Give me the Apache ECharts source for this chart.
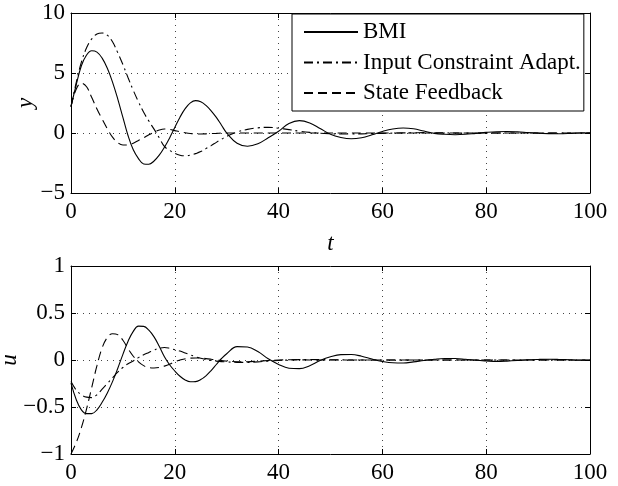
<!DOCTYPE html>
<html>
<head>
<meta charset="utf-8">
<script src="https://cdn.jsdelivr.net/npm/echarts@6/dist/echarts.min.js"></script>
<style>
html,body{margin:0;padding:0;background:#fff;}
#chart{width:618px;height:486px;}
</style>
</head>
<body>
<div id="chart"></div>
<script>
// ---- data ----
var seriesNames = ['BMI', 'Input Constraint Adapt.', 'State Feedback'];
var time = [0,1,2,3,4,5,6,7,8,9,10,11,12,13,14,15,16,17,18,19,20,21,22,23,24,25,26,27,28,29,30,
  32,34,36,38,40,42,44,46,48,50,52,54,56,58,60,62,64,66,68,70,72,74,76,78,80,82,84,86,88,90,92,94,96,98,100];

// top panel: output y
var yBMI = [2.2,4.0,5.6,6.5,6.85,6.74,6.24,5.39,4.24,2.85,1.3,-0.23,-1.4,-2.13,-2.58,-2.6,-2.33,-1.85,-1.19,-0.41,
  0.46,1.32,2.03,2.51,2.7,2.6,2.3,1.85,1.3,0.65,0.0,
  -0.85,-1.1,-0.9,-0.4,0.15,0.79,1.03,0.84,0.38,-0.11,-0.37,-0.48,-0.39,-0.15,0.13,0.34,0.42,0.35,0.16,
  -0.03,-0.11,-0.14,-0.11,-0.03,0.05,0.11,0.13,0.1,0.04,-0.02,-0.05,-0.06,-0.04,0.0,0.02];
var yICA = [2.2,4.2,5.9,7.1,7.85,8.25,8.33,8.15,7.6,6.7,5.7,4.6,3.55,2.6,1.72,1.0,0.32,-0.4,-1.12,-1.45,
  -1.7,-1.85,-1.9,-1.85,-1.72,-1.55,-1.3,-1.05,-0.78,-0.52,-0.28,
  0.08,0.3,0.43,0.47,0.4,0.28,0.15,0.05,-0.02,-0.06,-0.08,-0.08,-0.07,-0.05,-0.03,-0.01,0.01,0.02,0.03,
  0.02,0.01,0.0,-0.01,-0.01,-0.01,0.0,0.0,0.0,0.0,0.0,0.0,0.0,0.0,0.0,0.0];
var ySF = [2.2,3.65,4.15,3.85,2.95,2.0,1.15,0.35,-0.35,-0.8,-1.0,-1.0,-0.85,-0.62,-0.4,-0.15,0.07,0.25,0.33,0.3,
  0.2,0.1,0.02,-0.04,-0.07,-0.08,-0.07,-0.05,-0.03,-0.01,0.0,
  0.0,0.0,0.0,0.0,0.0,0.0,0.0,0.0,0.0,0.0,0.0,0.0,0.0,0.0,0.0,0.0,0.0,0.0,0.0,
  0.0,0.0,0.0,0.0,0.0,0.0,0.0,0.0,0.0,0.0,0.0,0.0,0.0,0.0,0.0,0.0];

// bottom panel: input u
var uBMI = [-0.245,-0.42,-0.53,-0.57,-0.57,-0.53,-0.45,-0.35,-0.23,-0.09,0.06,0.2,0.305,0.36,0.358,0.317,0.246,0.147,0.035,-0.05,
  -0.117,-0.173,-0.213,-0.232,-0.23,-0.208,-0.168,-0.113,-0.048,0.016,0.067,
  0.142,0.138,0.09,0.013,-0.047,-0.087,-0.092,-0.06,-0.005,0.035,0.057,0.058,0.04,0.01,-0.015,-0.03,-0.032,-0.02,-0.005,
  0.008,0.016,0.016,0.008,-0.003,-0.01,-0.015,-0.012,-0.006,0.002,0.006,0.008,0.006,0.002,-0.002,-0.003];
var uICA = [-0.23,-0.32,-0.37,-0.395,-0.4,-0.37,-0.31,-0.25,-0.19,-0.13,-0.08,-0.04,-0.01,0.025,0.055,0.08,0.105,0.125,0.133,0.125,
  0.11,0.095,0.075,0.055,0.035,0.018,0.005,-0.005,-0.012,-0.017,-0.02,
  -0.025,-0.025,-0.02,-0.012,-0.005,0.0,0.004,0.005,0.004,0.003,0.002,0.0,0.0,0.0,0.0,0.0,0.0,0.0,0.0,
  0.0,0.0,0.0,0.0,0.0,0.0,0.0,0.0,0.0,0.0,0.0,0.0,0.0,0.0,0.0,0.0];
var uSF = [-1.0,-0.88,-0.72,-0.52,-0.29,-0.06,0.13,0.24,0.28,0.27,0.21,0.12,0.04,-0.02,-0.06,-0.08,-0.085,-0.08,-0.065,-0.045,
  -0.02,0.0,0.012,0.02,0.022,0.02,0.015,0.008,0.0,-0.006,-0.012,
  -0.018,-0.018,-0.012,-0.006,0.0,0.002,0.002,0.0,0.0,0.0,0.0,0.0,0.0,0.0,0.0,0.0,0.0,0.0,0.0,
  0.0,0.0,0.0,0.0,0.0,0.0,0.0,0.0,0.0,0.0,0.0,0.0,0.0,0.0,0.0,0.0];

// tick values
var xTicks = [0,20,40,60,80,100];
var yTicksTop = [-5,0,5,10];
var yTicksBottom = [-1,-0.5,0,0.5,1];

// ---- chart ----
var FONT = 'Liberation Serif';
var TICK_FS = 23;
function pairs(v){ return time.map(function(t,i){ return [t, v[i]]; }); }
function minus(v){ return String(v).replace('-', '\u2212'); }
var dashDot = [9,4,2,4];
var dashed = [9,5];
var styles = [
  {type:'solid', width:1.1},
  {type:dashDot, width:1.1},
  {type:dashed, width:1.1}
];

function xAx(grid, pos, show, name){
  return {
    type:'value', gridIndex:grid, position:pos,
    min:xTicks[0], max:xTicks[xTicks.length-1], interval:xTicks[1]-xTicks[0],
    axisLine:{show:true, onZero:false, lineStyle:{color:'#000', width:1}},
    axisTick:{show:true, inside:true, length:5, lineStyle:{color:'#000'}},
    axisLabel:{show:show, color:'#000', fontFamily:FONT, fontSize:TICK_FS, margin:7, formatter:minus},
    splitLine:{show:show, lineStyle:{color:'#444', type:[1,5], width:1}},
    name:name||'', nameLocation:'middle', nameGap:39, nameMoveOverlap:false,
    nameTextStyle:{color:'#000', fontFamily:FONT, fontStyle:'italic', fontSize:23}
  };
}
function yAx(grid, pos, show, ticks, name, gap){
  return {
    type:'value', gridIndex:grid, position:pos,
    min:ticks[0], max:ticks[ticks.length-1], interval:ticks[1]-ticks[0],
    axisLine:{show:true, onZero:false, lineStyle:{color:'#000', width:1}},
    axisTick:{show:true, inside:true, length:5, lineStyle:{color:'#000'}},
    axisLabel:{show:show, color:'#000', fontFamily:FONT, fontSize:TICK_FS, margin:6, formatter:minus},
    splitLine:{show:show, lineStyle:{color:'#444', type:[1,5], width:1}},
    name:name||'', nameLocation:'middle', nameGap:gap||0, nameRotate:90, nameMoveOverlap:false,
    nameTextStyle:{color:'#000', fontFamily:FONT, fontStyle:'italic', fontSize:23}
  };
}

var topData = [yBMI, yICA, ySF];
var botData = [uBMI, uICA, uSF];
var seriesList = [];
for (var i=0;i<3;i++){
  seriesList.push({name:seriesNames[i], type:'line', xAxisIndex:0, yAxisIndex:0, data:pairs(topData[i]),
    symbol:'none', showSymbol:false, smooth:0.4, lineStyle:Object.assign({color:'#000'}, styles[i]),
    itemStyle:{color:'#000', opacity:0}, z:3});
}
for (var j=0;j<3;j++){
  seriesList.push({name:seriesNames[j], type:'line', xAxisIndex:1, yAxisIndex:1, data:pairs(botData[j]),
    symbol:'none', showSymbol:false, smooth:0.4, lineStyle:Object.assign({color:'#000'}, styles[j]),
    itemStyle:{color:'#000', opacity:0}, z:3});
}

var chart = echarts.init(document.getElementById('chart'), null, {renderer:'canvas'});
chart.setOption({
  animation:false,
  backgroundColor:'#fff',
  color:['#000','#000','#000'],
  grid:[
    {left:71, top:13, width:519, height:180, containLabel:false, outerBoundsMode:'none'},
    {left:71, top:266, width:519, height:188, containLabel:false, outerBoundsMode:'none'}
  ],
  xAxis:[ xAx(0,'bottom',true,'t'), xAx(1,'bottom',true,''), xAx(0,'top',false,''), xAx(1,'top',false,'') ],
  yAxis:[ yAx(0,'left',true,yTicksTop,'y',34), yAx(1,'left',true,yTicksBottom,'u',50),
          yAx(0,'right',false,yTicksTop,''), yAx(1,'right',false,yTicksBottom,'') ],
  legend:{
    orient:'vertical', left:292, top:14, itemWidth:54, itemHeight:14, itemGap:7.5,
    padding:[6.5,3,6.5,11], backgroundColor:'#fff', borderColor:'#000', borderWidth:1,
    itemStyle:{opacity:0, borderWidth:0},
    textStyle:{color:'#000', fontFamily:FONT, fontSize:23},
    data:seriesNames, z:10
  },
  series:seriesList
});
</script>
</body>
</html>
